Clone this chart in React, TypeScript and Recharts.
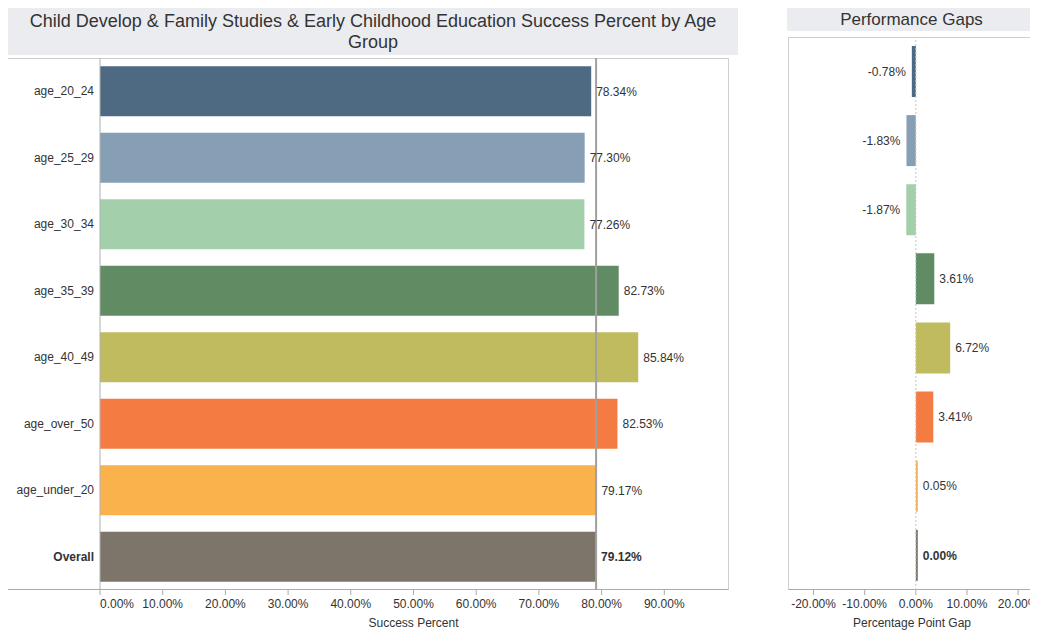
import React from 'react';
import {
  BarChart,
  Bar,
  XAxis,
  YAxis,
  Cell,
  LabelList,
  ReferenceLine
} from 'recharts';

const categories = [
  'age_20_24',
  'age_25_29',
  'age_30_34',
  'age_35_39',
  'age_40_49',
  'age_over_50',
  'age_under_20',
  'Overall'
];
const successPercent = [78.34, 77.3, 77.26, 82.73, 85.84, 82.53, 79.17, 79.12];
const gapPercent = [-0.78, -1.83, -1.87, 3.61, 6.72, 3.41, 0.05, 0.0];
const overallValue = 79.12;
const successTicks = [0, 10, 20, 30, 40, 50, 60, 70, 80, 90];
const gapTicks = [-20, -10, 0, 10, 20];

const palette = [
  '#4e6a82',
  '#869fb4',
  '#a3cfaa',
  '#618b63',
  '#c0bb5f',
  '#f47c43',
  '#f9b24c',
  '#7e756a'
];

const FONT = '"Liberation Sans", Arial, Helvetica, sans-serif';
const TEXT = '#333333';

const successData = categories.map((name, i) => ({ name, value: successPercent[i] }));
const gapData = categories.map((name, i) => ({ name, value: gapPercent[i] }));

const fmt = (v: number) => `${v.toFixed(2)}%`;

const BarLabel = (props: any) => {
  const { x, y, width, height, value, index } = props;
  const x0 = Number(x);
  const w = Number(width);
  const neg = value < 0;
  const end = neg ? Math.min(x0, x0 + w) : Math.max(x0, x0 + w);
  return (
    <text
      x={neg ? end - 6 : end + 5}
      y={Number(y) + Number(height) / 2}
      dy="0.35em"
      textAnchor={neg ? 'end' : 'start'}
      fontSize={12}
      fontFamily={FONT}
      fill={TEXT}
      fontWeight={index === categories.length - 1 ? 'bold' : 'normal'}
    >
      {fmt(value)}
    </text>
  );
};

const CategoryTick = (props: any) => {
  const { x, y, payload } = props;
  return (
    <text
      x={x}
      y={y}
      dy="0.35em"
      textAnchor="end"
      fontSize={12}
      fontFamily={FONT}
      fill={TEXT}
      fontWeight={payload.value === 'Overall' ? 'bold' : 'normal'}
    >
      {payload.value}
    </text>
  );
};

const PercentTick = (props: any) => {
  const { x, y, payload, index, firstStart } = props;
  return (
    <text
      x={x}
      y={y}
      dy="0.71em"
      textAnchor={firstStart && index === 0 ? 'start' : 'middle'}
      fontSize={12}
      fontFamily={FONT}
      fill={TEXT}
    >
      {fmt(payload.value)}
    </text>
  );
};

const titleBox: React.CSSProperties = {
  position: 'absolute',
  background: '#ebecf0',
  color: TEXT,
  textAlign: 'center'
};

export default function App() {
  return (
    <div style={{ position: 'relative', width: 1030, height: 622, fontFamily: FONT }}>
      {/* left panel */}
      <div style={{ ...titleBox, left: 0, top: 0, width: 730, height: 47, fontSize: 18, lineHeight: '21px', paddingTop: 3, boxSizing: 'border-box' }}>
        Child Develop &amp; Family Studies &amp; Early Childhood Education Success Percent by Age
        <br />
        Group
      </div>
      <div
        style={{
          position: 'absolute',
          left: 0,
          top: 50,
          width: 721,
          height: 532,
          borderTop: '1px solid #cfcfcf',
          borderRight: '1px solid #cfcfcf',
          borderBottom: '1px solid #aaaaaa',
          boxSizing: 'border-box'
        }}
      />
      <div style={{ position: 'absolute', left: 0, top: 50 }}>
        <BarChart
          width={722}
          height={572}
          data={successData}
          layout="vertical"
          barCategoryGap="12.5%"
          margin={{ top: 0, right: 3, left: 0, bottom: 0 }}
        >
          <XAxis
            type="number"
            domain={[0, 100]}
            ticks={successTicks}
            axisLine={false}
            tickLine={{ stroke: '#aaaaaa' }}
            tickSize={5}
            tickMargin={4}
            height={40}
            tick={<PercentTick firstStart />}
            label={{ value: 'Success Percent', position: 'insideBottom', offset: 3, fontSize: 12, fill: TEXT, fontFamily: FONT }}
          />
          <YAxis
            type="category"
            dataKey="name"
            width={92}
            axisLine={{ stroke: '#b0b0b0' }}
            tickLine={false}
            tickSize={0}
            tickMargin={6}
            tick={<CategoryTick />}
            interval={0}
          />
          <Bar dataKey="value" isAnimationActive={false}>
            {successData.map((d, i) => (
              <Cell key={d.name} fill={palette[i]} />
            ))}
            <LabelList dataKey="value" content={<BarLabel />} />
          </Bar>
          <ReferenceLine x={overallValue} stroke="#a0a0a0" strokeWidth={2} />
        </BarChart>
      </div>

      {/* right panel */}
      <div style={{ ...titleBox, left: 779, top: 0, width: 249, height: 23, fontSize: 17, lineHeight: '23px' }}>
        Performance Gaps
      </div>
      <div
        style={{
          position: 'absolute',
          left: 780,
          top: 29,
          width: 249,
          height: 553,
          borderTop: '1px solid #cfcfcf',
          borderLeft: '1px solid #cfcfcf',
          borderRight: '1px solid #cfcfcf',
          borderBottom: '1px solid #aaaaaa',
          boxSizing: 'border-box'
        }}
      />
      <div style={{ position: 'absolute', left: 780, top: 29 }}>
        <BarChart
          width={250}
          height={593}
          data={gapData}
          layout="vertical"
          barCategoryGap="13%"
          margin={{ top: 0, right: 2, left: 0, bottom: 0 }}
        >
          <XAxis
            type="number"
            domain={[-25, 23.5]}
            ticks={gapTicks}
            axisLine={false}
            tickLine={{ stroke: '#aaaaaa' }}
            tickSize={5}
            tickMargin={4}
            height={40}
            tick={<PercentTick />}
            label={{ value: 'Percentage Point Gap', position: 'insideBottom', offset: 3, fontSize: 12, fill: TEXT, fontFamily: FONT }}
          />
          <YAxis type="category" dataKey="name" hide width={0} />
          <ReferenceLine x={0} stroke="#c4c4c4" strokeDasharray="2 2" />
          <Bar dataKey="value" isAnimationActive={false} minPointSize={2}>
            {gapData.map((d, i) => (
              <Cell key={d.name} fill={palette[i]} />
            ))}
            <LabelList dataKey="value" content={<BarLabel />} />
          </Bar>
        </BarChart>
      </div>
    </div>
  );
}
